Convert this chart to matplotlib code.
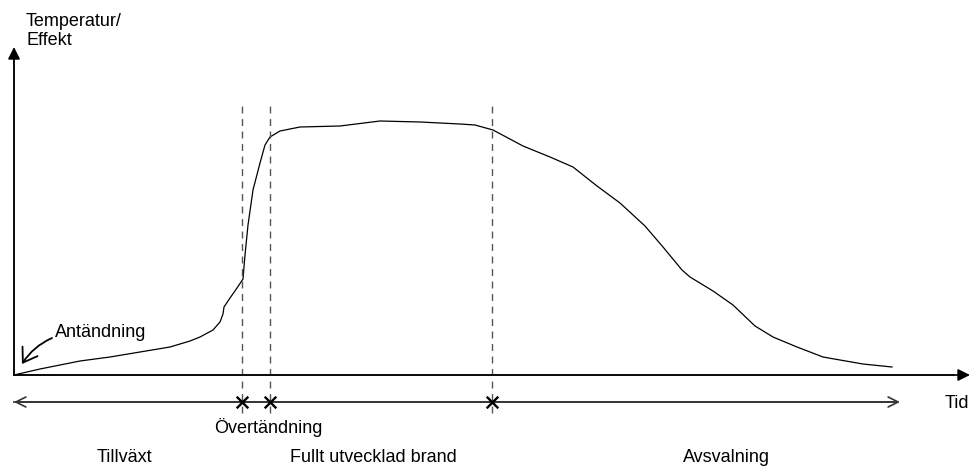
import matplotlib
matplotlib.use("Agg")
import matplotlib.pyplot as plt

plt.rcParams['font.family'] = ['Liberation Sans', 'DejaVu Sans']

# schematic fire curve: time vs temperature/effect (arbitrary units)
tid = [0, 26, 66, 96, 126, 156, 176, 186, 199, 206, 209, 210, 216, 223, 229,
       231, 234, 239, 246, 251, 256, 266, 286, 326, 366, 406, 446, 461, 479,
       509, 536, 559, 583, 606, 631, 649, 668, 676, 699, 719, 741, 759, 783,
       809, 826, 849, 878]
temperatur = [0, 6, 14, 18, 23, 28, 34, 38, 45, 53, 61, 68, 77, 87, 96,
              120, 150, 185, 212, 230, 238, 244, 248, 249, 254, 253, 251, 250, 245,
              229, 218, 208, 189, 172, 149, 128, 105, 98, 84, 70, 49, 38, 28,
              18, 15, 11, 8]

# phase boundaries (time)
grans = [228, 256, 478]
fas_namn = ["Tillväxt", "Fullt utvecklad brand", "Avsvalning"]
fas_pos = [110, 359, 712]

fig = plt.figure(figsize=(9.71, 4.69), dpi=100)
ax = fig.add_axes([0, 0, 1, 1])
ax.set_xlim(-14, 957)
ax.set_ylim(-94, 375)
ax.axis("off")

# axes with arrows
ax.annotate("", xy=(0, 328), xytext=(0, 0),
            arrowprops=dict(arrowstyle="-|>", color="black", lw=1.2,
                            mutation_scale=18, shrinkA=0, shrinkB=0))
ax.annotate("", xy=(956, 0), xytext=(0, 0),
            arrowprops=dict(arrowstyle="-|>", color="black", lw=1.2,
                            mutation_scale=18, shrinkA=0, shrinkB=0))
ax.plot([0, 940], [0, 0], color="#555555", lw=1.4)
ax.plot([0, 0], [0, 320], color="#333333", lw=1.2)

# curve
ax.plot(tid, temperatur, color="black", lw=0.9)

# dashed phase lines
for g in grans:
    ax.plot([g, g], [-38, 272], color="#555555", lw=1.0, dashes=(5, 4))

# time span arrow below
ax.annotate("", xy=(886, -27), xytext=(0, -27),
            arrowprops=dict(arrowstyle="<->", color="#333333", lw=1.2,
                            mutation_scale=18, shrinkA=0, shrinkB=0))
ax.plot([0, 880], [-27, -27], color="#555555", lw=1.4)
ax.scatter(grans, [-27] * len(grans), marker="x", s=70, color="black",
           linewidths=1.7, zorder=3)

fs = 13
ax.text(12, 344, "Temperatur/\nEffekt", fontsize=fs, va="center", ha="left",
        linespacing=1.1)
ax.text(931, -28, "Tid", fontsize=fs, va="center", ha="left")
ax.text(254, -52, "Övertändning", fontsize=fs, va="center", ha="center")
for nm, p in zip(fas_namn, fas_pos):
    ax.text(p, -82, nm, fontsize=fs, va="center", ha="center")

ax.text(41, 43, "Antändning", fontsize=fs, va="center", ha="left")
ax.annotate("", xy=(8, 11), xytext=(38, 37),
            arrowprops=dict(arrowstyle="->,head_length=0.6,head_width=0.4",
                            color="black", lw=1.3,
                            connectionstyle="arc3,rad=0.15",
                            mutation_scale=16, shrinkA=0, shrinkB=0))

fig.savefig("out.png", dpi=100)
